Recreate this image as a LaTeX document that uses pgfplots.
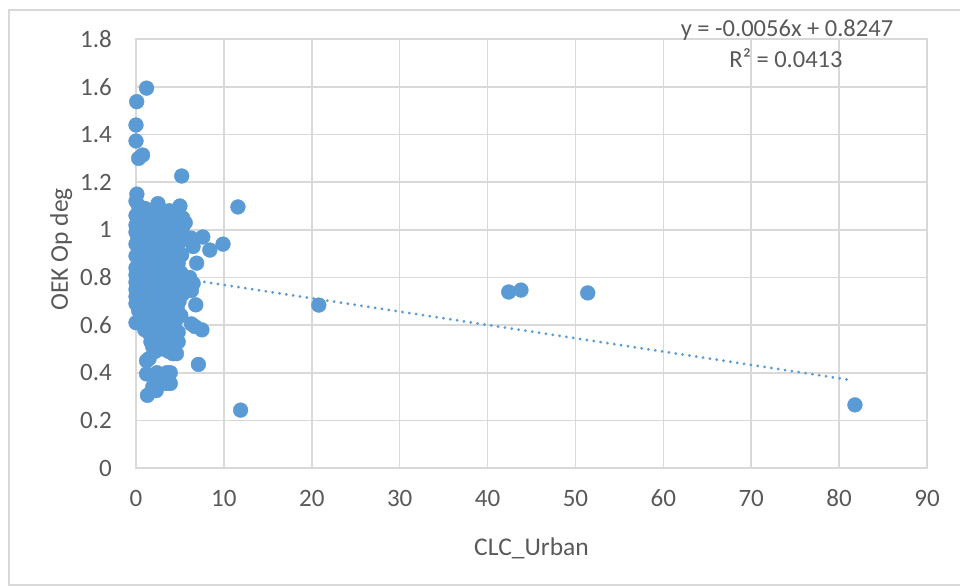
\documentclass[border=0pt]{standalone}
\usepackage{fontspec}
\setmainfont{Carlito}
\usepackage{pgfplots}
\pgfplotsset{compat=1.18}
\usepackage{pgfplotstable}
\definecolor{markblue}{HTML}{5B9BD5}
\definecolor{gridgray}{HTML}{D9D9D9}
\definecolor{textgray}{HTML}{595959}

% CLC_Urban (x) against OEK Op deg (y)
\pgfplotstableread{
x y
0.08 1.538
1.2 1.595
0.0 1.44
0.0 1.373
0.3 1.30
0.75 1.314
5.2 1.226
11.6 1.096
20.8 0.684
42.4 0.739
43.8 0.747
51.4 0.735
81.8 0.265
11.9 0.243
0.1 1.15
0.0 1.12
0.3 1.10
1.0 1.09
1.8 1.08
2.5 1.11
3.2 1.07
3.8 1.08
4.4 1.05
5.0 1.10
5.6 1.03
5.3 1.05
0.0 1.06
0.5 1.05
1.3 1.05
2.1 1.04
2.9 1.05
3.6 1.03
4.6 1.02
0.0 1.02
0.0 0.99
0.7 1.01
1.5 1.00
2.3 1.01
3.1 0.99
3.9 1.00
4.8 0.99
5.3 1.01
0.2 0.96
1.0 0.97
1.8 0.96
2.6 0.97
3.4 0.95
4.2 0.96
5.0 0.95
6.3 0.965
7.6 0.97
6.5 0.93
8.4 0.915
9.9 0.94
0.0 0.94
0.5 0.92
1.3 0.93
2.1 0.92
2.9 0.91
3.7 0.92
4.5 0.91
5.2 0.895
0.0 0.89
0.8 0.88
1.6 0.87
2.4 0.88
3.2 0.87
4.0 0.88
4.8 0.86
6.9 0.86
0.0 0.84
0.4 0.83
1.2 0.84
2.0 0.83
2.8 0.84
3.6 0.82
4.4 0.83
5.1 0.82
0.0 0.81
0.0 0.78
0.8 0.80
1.6 0.79
2.4 0.80
3.2 0.79
4.0 0.80
4.8 0.78
6.1 0.80
5.5 0.77
6.5 0.775
0.0 0.75
0.5 0.76
1.3 0.74
2.1 0.75
2.9 0.74
3.7 0.76
4.5 0.74
5.3 0.73
6.3 0.745
0.0 0.72
0.0 0.69
0.9 0.71
1.7 0.70
2.5 0.71
3.3 0.69
4.1 0.71
4.9 0.70
6.8 0.685
0.3 0.66
1.1 0.67
1.9 0.65
2.7 0.66
3.5 0.65
4.3 0.66
5.1 0.64
0.0 0.61
1.3 0.62
2.1 0.61
2.9 0.62
3.7 0.61
4.5 0.62
6.3 0.605
6.7 0.594
7.5 0.58
1.0 0.58
1.6 0.56
2.4 0.57
3.2 0.58
4.0 0.56
4.8 0.57
1.7 0.53
2.5 0.52
3.3 0.53
4.1 0.52
4.8 0.53
2.2 0.49
3.0 0.50
3.7 0.49
4.6 0.48
4.2 0.48
1.2 0.45
1.5 0.46
7.1 0.435
1.2 0.395
2.4 0.40
3.5 0.40
3.9 0.40
2.5 0.37
3.4 0.355
3.9 0.355
2.3 0.325
1.3 0.305
1.9 0.34
1.5 0.64
2.3 0.68
3.9 0.68
2.7 0.55
3.6 0.55
4.4 0.58
2.0 0.59
3.5 0.51
1.9 0.51
4.4 0.50
2.8 0.78
1.2 0.82
3.9 0.90
2.5 0.94
1.7 1.02
3.3 1.02
4.3 0.99
4.6 0.86
4.7 0.67
3.1 0.63
2.4 0.63
}\oekdata

% linear fit y = -0.0056x + 0.8247 over the data range
\pgfplotstableread{
x y
0.0 0.8247
81.4 0.3689
}\fitline

\begin{document}
\begin{tikzpicture}[x=1bp,y=1bp]
\path[use as bounding box] (0,0) rectangle (960,586);
\draw[gridgray, line width=1.4bp] (9,1) rectangle (975,576);
\begin{axis}[
  at={(136bp,118bp)}, anchor=south west,
  scale only axis, width=791bp, height=428.7bp,
  xmin=0, xmax=90, ymin=0, ymax=1.8,
  xtick={0,10,20,30,40,50,60,70,80,90},
  ytick={0,0.2,0.4,0.6,0.8,1,1.2,1.4,1.6,1.8},
  grid=major,
  major grid style={gridgray, line width=1.6bp},
  axis line style={gridgray, line width=1.6bp},
  tick style={draw=none},
  clip=false,
  tick label style={font=\fontsize{25bp}{30bp}\selectfont, text=textgray},
  /pgf/number format/assume math mode=true,
  yticklabel style={anchor=east, inner sep=0pt, xshift=-24bp},
  xticklabel style={anchor=base, inner sep=0pt, yshift=-39bp},
  xlabel={CLC\_Urban},
  ylabel={OEK Op deg},
  every axis x label/.style={at={(axis description cs:0.5,0)}, anchor=base,
    yshift=-88bp, font=\fontsize{25.5bp}{30bp}\selectfont, text=textgray},
  every axis y label/.style={at={(axis description cs:-0.086,0.51)}, rotate=90,
    anchor=base, font=\fontsize{25.5bp}{30bp}\selectfont, text=textgray},
]
\addplot[markblue, line width=3.1bp, line cap=round,
  dash pattern=on 0.01bp off 6.9bp] table[x=x, y=y] {\fitline};
\addplot[only marks, mark=*, mark size=7.4bp, color=markblue,
  mark options={draw=markblue, fill=markblue}] table[x=x, y=y] {\oekdata};
\end{axis}
\node[anchor=base, font=\fontsize{24.5bp}{29bp}\selectfont, text=textgray]
  at (787,549) {y = -0.0056x + 0.8247};
\node[anchor=base, font=\fontsize{24.5bp}{29bp}\selectfont, text=textgray]
  at (786,518) {R² = 0.0413};
\end{tikzpicture}
\end{document}
